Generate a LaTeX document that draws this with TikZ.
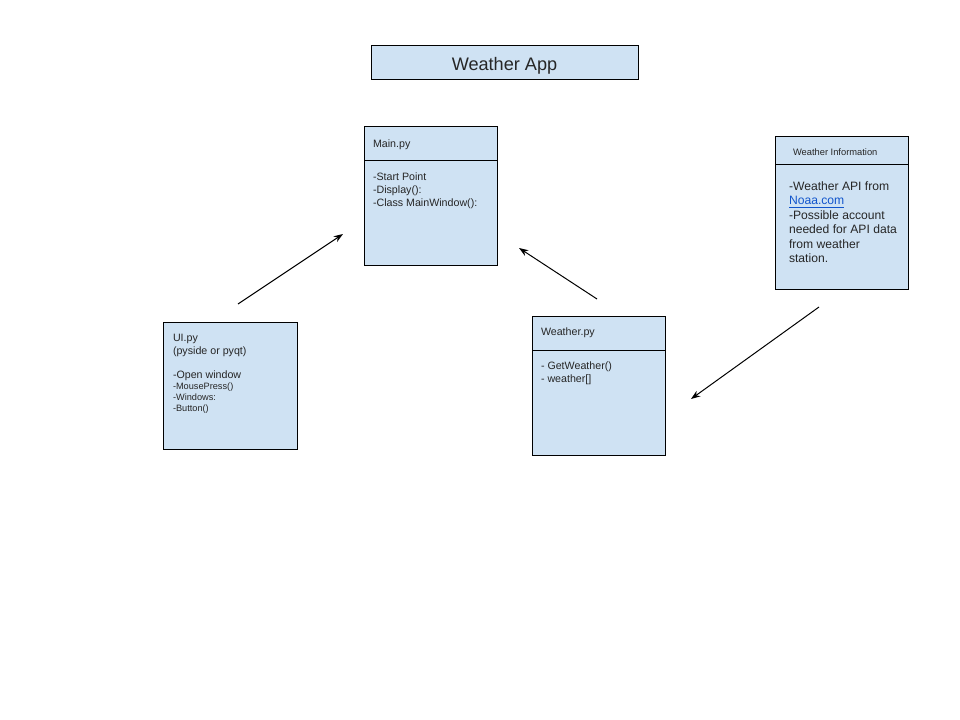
\documentclass[tikz,border=0pt]{standalone}
\usepackage{fontspec}
\setmainfont{Liberation Sans}
\usetikzlibrary{arrows.meta}
\definecolor{boxfill}{HTML}{CFE2F3}
\definecolor{linkblue}{HTML}{1155CC}
\tikzset{
  umlbox/.style={draw=black, fill=boxfill, line width=0.75pt},
  txt/.style={anchor=north west, inner sep=0pt, outer sep=0pt, align=left, text=black!85},
  bodyfont/.style={font=\fontsize{8}{9.75}\selectfont},
  smallfont/.style={font=\fontsize{6.9}{8.1}\selectfont},
  infofont/.style={font=\fontsize{9.1}{10.9}\selectfont},
  conn/.style={line width=0.75pt, -{Stealth[length=7pt,width=5pt]}}
}
\begin{document}
\begin{tikzpicture}[x=0.75pt,y=-0.75pt]
\useasboundingbox (0,0) rectangle (960,720);
% Title
\draw[umlbox] (371,46) rectangle (638,80);
\node[inner sep=0pt, font=\fontsize{13.6}{16}\selectfont, text=black!85] (title) at (504.5,65.5) {Weather App};
% Main.py
\draw[umlbox] (364,127) rectangle (497,266);
\draw[line width=0.75pt] (364,161) -- (497,161);
\node[txt, bodyfont] (mainhead) at (373,140) {Main.py};
\node[txt, bodyfont] (mainbody) at (373,172.5) {-Start Point\\-Display():\\-Class MainWindow():};
% UI.py
\draw[umlbox] (163,322) rectangle (297,449);
\node[txt, bodyfont] (uihead) at (173,334.5) {UI.py\\(pyside or pyqt)};
\node[txt, bodyfont] (uiopen) at (173,370.5) {-Open window};
\node[txt, smallfont] (uismall) at (173,383) {-MousePress()\\-Windows:\\-Button()};
% Weather.py
\draw[umlbox] (532,316) rectangle (665,455);
\draw[line width=0.75pt] (532,350) -- (665,350);
\node[txt, bodyfont] (wxhead) at (541,328) {Weather.py};
\node[txt, bodyfont] (wxbody) at (541,362) {- GetWeather()\\- weather[]};
% Weather Information
\draw[umlbox] (775,137) rectangle (908,290);
\draw[line width=0.75pt] (775,165) -- (908,165);
\node[txt, font=\fontsize{7}{8.4}\selectfont] (infohead) at (793,148.5) {Weather Information};
\node[txt, infofont] (infobody) at (789,181.5) {-Weather API from\\\textcolor{linkblue}{\underline{Noaa.com}}\\-Possible account\\needed for API data\\from weather\\station.};
% Connectors
\coordinate (a1s) at (238,304);
\coordinate (a1e) at (343,234);
\coordinate (a2s) at (597,299);
\coordinate (a2e) at (519,248);
\coordinate (a3s) at (819,307);
\coordinate (a3e) at (691,399);
\draw[conn] (a1s) -- (a1e);
\draw[conn] (a2s) -- (a2e);
\draw[conn] (a3s) -- (a3e);
\end{tikzpicture}
\end{document}
